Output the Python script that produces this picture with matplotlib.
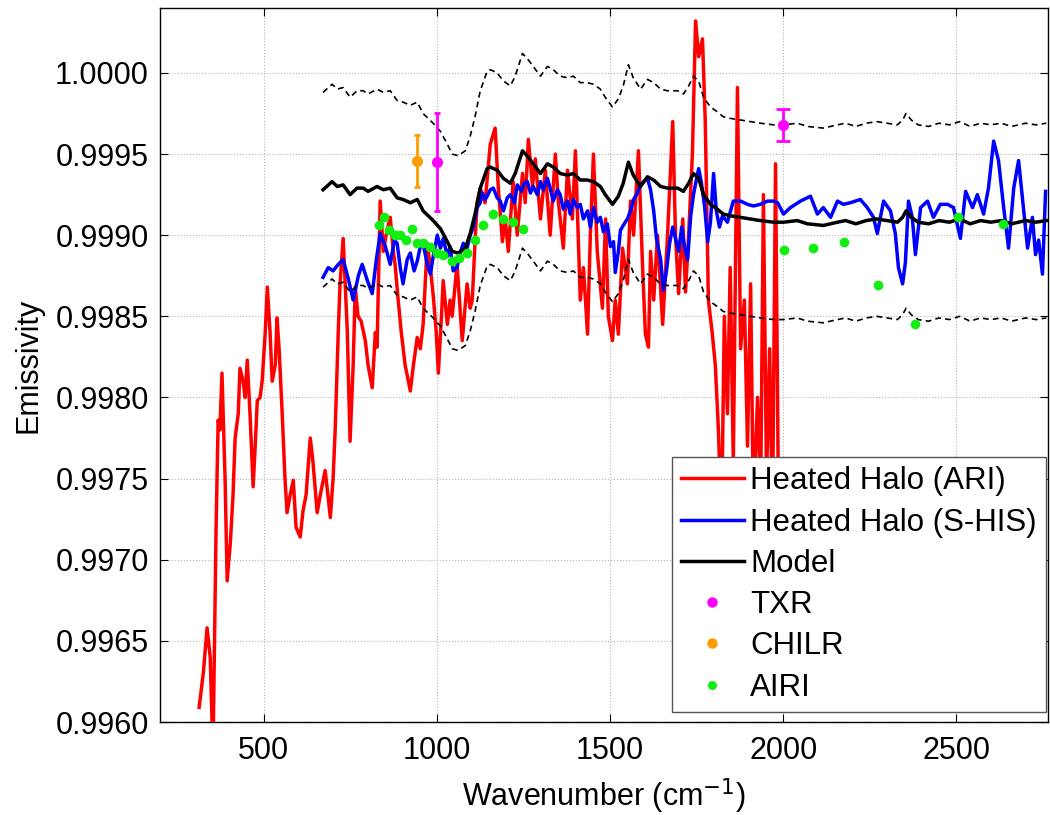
import matplotlib
matplotlib.use("Agg")
import matplotlib.pyplot as plt
from matplotlib.lines import Line2D
from matplotlib.ticker import FormatStrFormatter
import numpy as np

plt.rcParams['font.family'] = ['Liberation Sans', 'DejaVu Sans']

# ---------------- data ----------------
ari_x = [313,325,336,345,353,362,368,373,379,388,394,403,411,417,426,431,440,446,452,460,
         469,475,481,489,495,504,510,518,524,533,538,544,553,561,567,576,585,593,605,613,
         622,634,642,654,663,677,685,692,700,706,715,720,729,741,749,758,764,772,781,793,
         801,813,822,827,836,845,853,865,874,879,888,897,908,923,932,943,952,960,972,981,
         990,998,1004,1013,1018,1030,1038,1044,1058,1073,1087,1096,1102,1110,1116,1125,1139,1154,1168,1177,
         1189,1197,1206,1220,1232,1247,1255,1264,1276,1284,1299,1313,1327,1342,1351,1365,1377,1391,1400,1414,
         1423,1435,1443,1452,1463,1478,1487,1495,1507,1515,1524,1536,1550,1559,1568,1582,1594,1602,1611,1617,
         1626,1637,1652,1666,1681,1689,1698,1710,1718,1727,1738,1747,1756,1767,1775,1784,1795,1804,1813,1822,
         1830,1839,1847,1856,1868,1877,1888,1897,1906,1914,1926,1935,1943,1952,1961,1969,1978,1987]
ari_y = [0.99609,0.99630,0.99658,0.99640,0.99580,0.99720,0.99786,0.99780,0.99815,0.99750,
         0.99687,0.99710,0.99740,0.99775,0.99790,0.99818,0.99810,0.99800,0.99823,0.99790,
         0.99745,0.99770,0.99798,0.99800,0.99810,0.99840,0.99868,0.99840,0.99810,0.99820,
         0.99849,0.99830,0.99790,0.99750,0.99729,0.99740,0.99749,0.99720,0.99714,0.99730,
         0.99740,0.99775,0.99760,0.99729,0.99740,0.99755,0.99740,0.99726,0.99750,0.99780,
         0.99841,0.99870,0.99898,0.99841,0.99773,0.99820,0.99868,0.99850,0.99847,0.99835,
         0.99820,0.99806,0.99840,0.99831,0.99921,0.99890,0.99900,0.99911,0.99890,0.99882,
         0.99860,0.99840,0.99820,0.99804,0.99820,0.99837,0.99830,0.99845,0.99895,0.99880,
         0.99861,0.99840,0.99815,0.99850,0.99872,0.99845,0.99860,0.99850,0.99882,0.99835,
         0.99870,0.99855,0.99860,0.99896,0.99920,0.99929,0.99920,0.99956,0.99966,0.99930,
         0.99896,0.99910,0.99890,0.99933,0.99900,0.99938,0.99920,0.99959,0.99930,0.99947,
         0.99910,0.99940,0.99900,0.99950,0.99920,0.99892,0.99940,0.99910,0.99952,0.99860,
         0.99880,0.99839,0.99900,0.99950,0.99890,0.99855,0.99910,0.99850,0.99835,0.99860,
         0.99839,0.99892,0.99870,0.99921,0.99900,0.99952,0.99880,0.99839,0.99831,0.99890,
         0.99860,0.99900,0.99845,0.99900,0.99970,0.99900,0.99864,0.99910,0.99865,0.99900,
         0.99951,1.00032,1.00010,1.00021,0.99970,0.99860,0.99840,0.99820,0.99780,0.99720,
         0.99850,0.99790,0.99880,0.99760,0.99991,0.99830,0.99860,0.99770,0.99870,0.99730,
         0.99800,0.99740,0.99925,0.99750,0.99830,0.99720,0.99944,0.99720]

shis_x = [671,686,700,715,729,744,758,773,784,799,813,825,836,851,865,877,885,894,902,914,
          923,934,943,952,960,972,981,990,1001,1010,1018,1030,1038,1047,1058,1067,1076,1087,1096,1105,
          1116,1125,1131,1139,1145,1154,1163,1174,1183,1192,1203,1212,1224,1232,1244,1252,1261,1270,1278,1290,
          1299,1307,1319,1327,1336,1348,1356,1365,1377,1385,1394,1405,1414,1423,1435,1443,1452,1463,1472,1481,
          1492,1501,1510,1515,1524,1530,1538,1550,1559,1568,1579,1588,1597,1608,1617,1626,1634,1646,1654,1663,
          1672,1681,1689,1698,1707,1715,1724,1733,1741,1750,1756,1764,1773,1782,1790,1799,1807,1816,1825,1839,
          1856,1877,1897,1914,1934,1955,1972,1984,2001,2021,2050,2079,2099,2116,2137,2157,2174,2194,2223,2243,
          2261,2272,2290,2310,2324,2333,2345,2353,2362,2373,2382,2397,2417,2434,2454,2475,2492,2512,2527,2547,
          2561,2579,2593,2608,2622,2637,2651,2666,2680,2694,2706,2720,2729,2738,2749,2758]
shis_y = [0.99874,0.99880,0.99878,0.99882,0.99885,0.99873,0.99860,0.99875,0.99882,0.99872,
          0.99864,0.99885,0.99901,0.99893,0.99882,0.99897,0.99895,0.99880,0.99870,0.99885,
          0.99889,0.99878,0.99884,0.99893,0.99895,0.99882,0.99876,0.99888,0.99900,0.99892,
          0.99898,0.99887,0.99893,0.99878,0.99880,0.99889,0.99895,0.99892,0.99900,0.99905,
          0.99917,0.99920,0.99926,0.99922,0.99924,0.99928,0.99929,0.99923,0.99921,0.99915,
          0.99923,0.99925,0.99920,0.99931,0.99927,0.99932,0.99933,0.99926,0.99930,0.99925,
          0.99933,0.99928,0.99935,0.99929,0.99921,0.99928,0.99925,0.99916,0.99921,0.99913,
          0.99922,0.99917,0.99919,0.99910,0.99915,0.99905,0.99917,0.99908,0.99911,0.99902,
          0.99907,0.99893,0.99896,0.99877,0.99890,0.99903,0.99906,0.99910,0.99915,0.99922,
          0.99926,0.99931,0.99933,0.99935,0.99928,0.99915,0.99898,0.99885,0.99866,0.99878,
          0.99895,0.99905,0.99898,0.99890,0.99905,0.99893,0.99885,0.99912,0.99925,0.99935,
          0.99941,0.99932,0.99918,0.99896,0.99908,0.99938,0.99915,0.99905,0.99912,0.99908,
          0.99921,0.99921,0.99919,0.99918,0.99919,0.99921,0.99921,0.99920,0.99913,0.99917,
          0.99921,0.99924,0.99913,0.99917,0.99911,0.99921,0.99919,0.99920,0.99922,0.99917,
          0.99911,0.99901,0.99921,0.99915,0.99901,0.99880,0.99870,0.99883,0.99921,0.99911,
          0.99888,0.99917,0.99921,0.99911,0.99919,0.99919,0.99917,0.99898,0.99927,0.99917,
          0.99925,0.99913,0.99929,0.99958,0.99946,0.99917,0.99892,0.99929,0.99946,0.99917,
          0.99892,0.99911,0.99888,0.99897,0.99876,0.99927]

model_x = [671,697,712,729,749,769,787,801,827,845,865,885,902,923,943,960,989,1010,1030,1044,
           1061,1082,1096,1110,1125,1145,1154,1174,1192,1212,1226,1247,1264,1278,1299,1319,1336,1356,1377,1394,
           1414,1434,1452,1472,1486,1507,1524,1538,1553,1567,1588,1608,1626,1646,1666,1695,1712,1727,1741,1756,
           1770,1790,1810,1827,1847,1876,1905,1934,1972,2001,2041,2070,2116,2157,2180,2210,2240,2270,2300,2330,
           2345,2355,2370,2390,2420,2450,2480,2510,2540,2570,2600,2630,2660,2700,2730,2760]
model_y = [0.99928,0.99933,0.99930,0.99931,0.99925,0.99929,0.99929,0.99927,0.99930,0.99928,
           0.99929,0.99923,0.99922,0.99920,0.99922,0.99915,0.99909,0.99904,0.99896,0.99890,
           0.99889,0.99892,0.99901,0.99913,0.99929,0.99941,0.99942,0.99940,0.99935,0.99932,
           0.99938,0.99952,0.99948,0.99944,0.99938,0.99944,0.99942,0.99938,0.99937,0.99938,
           0.99934,0.99934,0.99933,0.99930,0.99925,0.99919,0.99924,0.99932,0.99945,0.99937,
           0.99930,0.99936,0.99934,0.99930,0.99929,0.99929,0.99927,0.99932,0.99938,0.99935,
           0.99925,0.99919,0.99916,0.99913,0.99912,0.99911,0.99910,0.99909,0.99908,0.99908,
           0.99909,0.99907,0.99906,0.99908,0.99909,0.99907,0.99909,0.99910,0.99909,0.99908,
           0.99911,0.99915,0.99911,0.99908,0.99907,0.99909,0.99908,0.99910,0.99907,0.99909,
           0.99908,0.99909,0.99907,0.99909,0.99908,0.99909]
model_unc = 0.0006

txr_x = [1000, 2000]
txr_y = [0.99945, 0.99968]
txr_err = [0.00030, 0.00010]

chilr_x = [942]
chilr_y = [0.99946]
chilr_err = [0.00016]

airi_x = [834,848,862,879,894,911,928,943,960,980,1000,1018,1044,1064,1087,1110,1134,1163,1191,1220,
          1249,2001,2085,2177,2275,2382,2504,2634]
airi_y = [0.99906,0.99911,0.99903,0.99900,0.99900,0.99897,0.99904,0.99895,0.99895,0.99893,
          0.99889,0.99888,0.99884,0.99886,0.99889,0.99897,0.99906,0.99913,0.99910,0.99908,
          0.99904,0.99891,0.99892,0.99896,0.99869,0.99845,0.99911,0.99907]

labels = ['Heated Halo (ARI)', 'Heated Halo (S-HIS)', 'Model', 'TXR', 'CHILR', 'AIRI']

c_red = '#ff0000'
c_blue = '#0000ff'
c_mag = '#ff00ff'
c_orange = '#ff9c00'
c_green = '#11ee11'
LW = 2.5

# ---------------- figure ----------------
fig = plt.figure(figsize=(10.5, 8.15), dpi=100)
ax = fig.add_axes([160/1050, (815-722)/815, 888/1050, 714/815])

ax.plot(ari_x, ari_y, color=c_red, lw=LW, zorder=3)
ax.plot(shis_x, shis_y, color=c_blue, lw=LW, zorder=4)
mx = np.array(model_x)
my = np.array(model_y)
ax.plot(mx, my, color='black', lw=LW, zorder=5)
ax.plot(mx, my + model_unc, color='black', lw=1.2, ls=(0, (3.5, 2.5)), zorder=5)
ax.plot(mx, my - model_unc, color='black', lw=1.2, ls=(0, (3.5, 2.5)), zorder=5)

ax.errorbar(chilr_x, chilr_y, yerr=chilr_err, fmt='o', color=c_orange, ms=7,
            elinewidth=2, capsize=2.5, capthick=2, zorder=6)
ax.errorbar(txr_x[:1], txr_y[:1], yerr=txr_err[:1], fmt='o', color=c_mag, ms=7,
            elinewidth=2, capsize=2.5, capthick=2, zorder=6)
ax.errorbar(txr_x[1:], txr_y[1:], yerr=txr_err[1:], fmt='o', color=c_mag, ms=7,
            elinewidth=2, capsize=5, capthick=2, zorder=6)
ax.plot(airi_x, airi_y, 'o', color=c_green, ms=7, mec='none', zorder=7)

ax.set_xlim(200, 2765)
ax.set_ylim(0.9960, 1.0004)
ax.set_xticks([500, 1000, 1500, 2000, 2500])
ax.set_yticks(np.arange(0.9960, 1.00001, 0.0005))
ax.yaxis.set_major_formatter(FormatStrFormatter('%.4f'))
ax.grid(True, linestyle=':', color='#b5b5b5', linewidth=0.8)
ax.set_axisbelow(True)
ax.tick_params(direction='in', top=True, right=True, length=6, width=0.8,
               labelsize=22, colors='black')
ax.tick_params(axis='x', pad=10)
ax.tick_params(axis='y', pad=8)
for s in ax.spines.values():
    s.set_linewidth(1.0)
    s.set_color('black')

ax.set_xlabel('Wavenumber (cm$^{-1}$)', fontsize=22, labelpad=8)
ax.set_ylabel('Emissivity', fontsize=22, labelpad=8)

handles = [Line2D([], [], color=c_red, lw=LW),
           Line2D([], [], color=c_blue, lw=LW),
           Line2D([], [], color='black', lw=LW),
           Line2D([], [], color=c_mag, marker='o', ls='none', ms=6.5),
           Line2D([], [], color=c_orange, marker='o', ls='none', ms=6.5),
           Line2D([], [], color=c_green, marker='o', ls='none', ms=6.5, mec='none')]
leg = ax.legend(handles, labels, loc='lower right', bbox_to_anchor=(0.9977, 0.014),
                borderaxespad=0, fontsize=22.5, handlelength=2.0, handletextpad=0.2,
                labelspacing=0.36, borderpad=0.3, fancybox=False, framealpha=1,
                edgecolor='#555555')
leg.get_frame().set_linewidth(1.0)
leg.set_zorder(10)

fig.savefig('out.png', dpi=100)
